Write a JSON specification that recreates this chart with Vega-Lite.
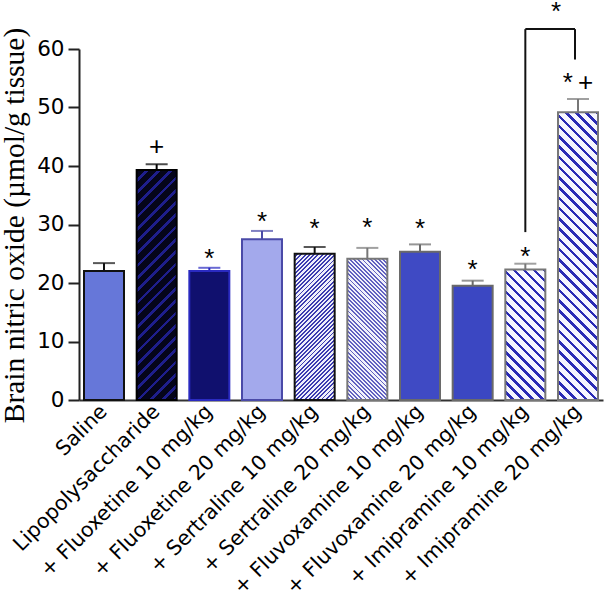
{
  "$schema": "https://vega.github.io/schema/vega-lite/v6.json",
  "width": 524,
  "height": 351,
  "autosize": {"type": "none"},
  "padding": {"left": 79, "top": 49, "right": 3, "bottom": 205},
  "background": "white",
  "config": {"view": {"stroke": null}},
  "datasets": {
    "bars": [
      {"group": "Saline", "mean": 22.05, "upper": 23.4, "sig": "", "sig_y": 0},
      {"group": "Lipopolysaccharide", "mean": 39.3, "upper": 40.3, "sig": "+", "sig_y": 41.8},
      {"group": "+ Fluoxetine 10 mg/kg", "mean": 22.05, "upper": 22.6, "sig": "*", "sig_y": 22.65},
      {"group": "+ Fluoxetine 20 mg/kg", "mean": 27.5, "upper": 28.9, "sig": "*", "sig_y": 29.0},
      {"group": "+ Sertraline 10 mg/kg", "mean": 25.0, "upper": 26.15, "sig": "*", "sig_y": 27.8},
      {"group": "+ Sertraline 20 mg/kg", "mean": 24.15, "upper": 26.0, "sig": "*", "sig_y": 28.1},
      {"group": "+ Fluvoxamine 10 mg/kg", "mean": 25.35, "upper": 26.6, "sig": "*", "sig_y": 27.8},
      {"group": "+ Fluvoxamine 20 mg/kg", "mean": 19.55, "upper": 20.4, "sig": "*", "sig_y": 20.9},
      {"group": "+ Imipramine 10 mg/kg", "mean": 22.3, "upper": 23.3, "sig": "*", "sig_y": 23.1},
      {"group": "+ Imipramine 20 mg/kg", "mean": 49.2, "upper": 51.45, "sig": "*\u2009+", "sig_y": 52.8}
    ],
    "bracket": [
      {"from": "+ Imipramine 10 mg/kg", "to": "+ Imipramine 20 mg/kg", "top": 63.4, "from_low": 28.7, "to_low": 58.2, "label": "*", "label_y": 64.9}
    ]
  },
  "encoding": {
    "x": {
      "field": "group",
      "type": "nominal",
      "scale": {
        "domain": ["Saline", "Lipopolysaccharide", "+ Fluoxetine 10 mg/kg", "+ Fluoxetine 20 mg/kg", "+ Sertraline 10 mg/kg", "+ Sertraline 20 mg/kg", "+ Fluvoxamine 10 mg/kg", "+ Fluvoxamine 20 mg/kg", "+ Imipramine 10 mg/kg", "+ Imipramine 20 mg/kg"],
        "paddingInner": 0.2405,
        "paddingOuter": 0.0949
      },
      "axis": {
        "title": null,
        "ticks": false,
        "tickSize": 0,
        "domainColor": "#333333",
        "domainWidth": 2,
        "labelAngle": -45,
        "labelAlign": "right",
        "labelBaseline": "middle",
        "labelFont": "DejaVu Sans",
        "labelFontSize": 20.5,
        "labelColor": "#000000",
        "labelPadding": 8,
        "labelLimit": 400
      }
    }
  },
  "layer": [
    {
      "data": {"name": "bars"},
      "mark": {"type": "bar", "strokeWidth": 2},
      "encoding": {
        "y": {
          "field": "mean",
          "type": "quantitative",
          "scale": {"domain": [0, 60], "nice": false, "zero": true},
          "axis": {
            "title": "Brain nitric oxide (\u00b5mol/g tissue)",
            "titleFont": "Liberation Serif",
            "titleFontSize": 29.5,
            "titleFontWeight": "normal",
            "titleColor": "#000000",
            "titleAngle": 270,
            "titleAlign": "center",
            "titleBaseline": "alphabetic",
            "titleX": -56,
            "titleY": 176,
            "values": [0, 10, 20, 30, 40, 50, 60],
            "grid": false,
            "domainColor": "#222222",
            "domainWidth": 2,
            "tickColor": "#222222",
            "tickWidth": 2,
            "tickSize": 11,
            "labelFont": "DejaVu Sans",
            "labelFontSize": 21.5,
            "labelColor": "#000000",
            "labelPadding": 4
          }
        },
        "fill": {
          "field": "group",
          "type": "nominal",
          "legend": null,
          "scale": {
            "domain": ["Saline", "Lipopolysaccharide", "+ Fluoxetine 10 mg/kg", "+ Fluoxetine 20 mg/kg", "+ Sertraline 10 mg/kg", "+ Sertraline 20 mg/kg", "+ Fluvoxamine 10 mg/kg", "+ Fluvoxamine 20 mg/kg", "+ Imipramine 10 mg/kg", "+ Imipramine 20 mg/kg"],
            "range": ["#6677d9", "#0b0b33", "#10106e", "#a3a9ec", "#8c92dc", "#a7abe3", "#3f4ac4", "#3b47c2", "#c2c5ef", "#c2c5ef"]
          },
          "condition": [
            {
              "test": "datum.group === 'Lipopolysaccharide'",
              "value": {
                "gradient": "linear", "x1": 0, "y1": 0, "x2": 0.1982, "y2": 1.1394,
                "stops": [
                  {"offset": 0, "color": "#05051a"}, {"offset": 0.0318, "color": "#05051a"}, {"offset": 0.0318, "color": "#1e1e8c"}, {"offset": 0.0455, "color": "#1e1e8c"},
                  {"offset": 0.0455, "color": "#05051a"}, {"offset": 0.0773, "color": "#05051a"}, {"offset": 0.0773, "color": "#1e1e8c"}, {"offset": 0.0909, "color": "#1e1e8c"},
                  {"offset": 0.0909, "color": "#05051a"}, {"offset": 0.1227, "color": "#05051a"}, {"offset": 0.1227, "color": "#1e1e8c"}, {"offset": 0.1364, "color": "#1e1e8c"},
                  {"offset": 0.1364, "color": "#05051a"}, {"offset": 0.1682, "color": "#05051a"}, {"offset": 0.1682, "color": "#1e1e8c"}, {"offset": 0.1818, "color": "#1e1e8c"},
                  {"offset": 0.1818, "color": "#05051a"}, {"offset": 0.2136, "color": "#05051a"}, {"offset": 0.2136, "color": "#1e1e8c"}, {"offset": 0.2273, "color": "#1e1e8c"},
                  {"offset": 0.2273, "color": "#05051a"}, {"offset": 0.2591, "color": "#05051a"}, {"offset": 0.2591, "color": "#1e1e8c"}, {"offset": 0.2727, "color": "#1e1e8c"},
                  {"offset": 0.2727, "color": "#05051a"}, {"offset": 0.3045, "color": "#05051a"}, {"offset": 0.3045, "color": "#1e1e8c"}, {"offset": 0.3182, "color": "#1e1e8c"},
                  {"offset": 0.3182, "color": "#05051a"}, {"offset": 0.35, "color": "#05051a"}, {"offset": 0.35, "color": "#1e1e8c"}, {"offset": 0.3636, "color": "#1e1e8c"},
                  {"offset": 0.3636, "color": "#05051a"}, {"offset": 0.3955, "color": "#05051a"}, {"offset": 0.3955, "color": "#1e1e8c"}, {"offset": 0.4091, "color": "#1e1e8c"},
                  {"offset": 0.4091, "color": "#05051a"}, {"offset": 0.4409, "color": "#05051a"}, {"offset": 0.4409, "color": "#1e1e8c"}, {"offset": 0.4545, "color": "#1e1e8c"},
                  {"offset": 0.4545, "color": "#05051a"}, {"offset": 0.4864, "color": "#05051a"}, {"offset": 0.4864, "color": "#1e1e8c"}, {"offset": 0.5, "color": "#1e1e8c"},
                  {"offset": 0.5, "color": "#05051a"}, {"offset": 0.5318, "color": "#05051a"}, {"offset": 0.5318, "color": "#1e1e8c"}, {"offset": 0.5455, "color": "#1e1e8c"},
                  {"offset": 0.5455, "color": "#05051a"}, {"offset": 0.5773, "color": "#05051a"}, {"offset": 0.5773, "color": "#1e1e8c"}, {"offset": 0.5909, "color": "#1e1e8c"},
                  {"offset": 0.5909, "color": "#05051a"}, {"offset": 0.6227, "color": "#05051a"}, {"offset": 0.6227, "color": "#1e1e8c"}, {"offset": 0.6364, "color": "#1e1e8c"},
                  {"offset": 0.6364, "color": "#05051a"}, {"offset": 0.6682, "color": "#05051a"}, {"offset": 0.6682, "color": "#1e1e8c"}, {"offset": 0.6818, "color": "#1e1e8c"},
                  {"offset": 0.6818, "color": "#05051a"}, {"offset": 0.7136, "color": "#05051a"}, {"offset": 0.7136, "color": "#1e1e8c"}, {"offset": 0.7273, "color": "#1e1e8c"},
                  {"offset": 0.7273, "color": "#05051a"}, {"offset": 0.7591, "color": "#05051a"}, {"offset": 0.7591, "color": "#1e1e8c"}, {"offset": 0.7727, "color": "#1e1e8c"},
                  {"offset": 0.7727, "color": "#05051a"}, {"offset": 0.8045, "color": "#05051a"}, {"offset": 0.8045, "color": "#1e1e8c"}, {"offset": 0.8182, "color": "#1e1e8c"},
                  {"offset": 0.8182, "color": "#05051a"}, {"offset": 0.85, "color": "#05051a"}, {"offset": 0.85, "color": "#1e1e8c"}, {"offset": 0.8636, "color": "#1e1e8c"},
                  {"offset": 0.8636, "color": "#05051a"}, {"offset": 0.8955, "color": "#05051a"}, {"offset": 0.8955, "color": "#1e1e8c"}, {"offset": 0.9091, "color": "#1e1e8c"},
                  {"offset": 0.9091, "color": "#05051a"}, {"offset": 0.9409, "color": "#05051a"}, {"offset": 0.9409, "color": "#1e1e8c"}, {"offset": 0.9545, "color": "#1e1e8c"},
                  {"offset": 0.9545, "color": "#05051a"}, {"offset": 0.9864, "color": "#05051a"}, {"offset": 0.9864, "color": "#1e1e8c"}, {"offset": 1, "color": "#1e1e8c"}
                ]
              }
            },
            {
              "test": "datum.group === '+ Sertraline 10 mg/kg'",
              "value": {
                "gradient": "linear", "x1": 0, "y1": 0, "x2": 0.324, "y2": 1.1847,
                "stops": [
                  {"offset": 0, "color": "#eeeefa"}, {"offset": 0.0125, "color": "#eeeefa"}, {"offset": 0.0125, "color": "#3c3cb0"}, {"offset": 0.0227, "color": "#3c3cb0"},
                  {"offset": 0.0227, "color": "#eeeefa"}, {"offset": 0.0352, "color": "#eeeefa"}, {"offset": 0.0352, "color": "#3c3cb0"}, {"offset": 0.0455, "color": "#3c3cb0"},
                  {"offset": 0.0455, "color": "#eeeefa"}, {"offset": 0.058, "color": "#eeeefa"}, {"offset": 0.058, "color": "#3c3cb0"}, {"offset": 0.0682, "color": "#3c3cb0"},
                  {"offset": 0.0682, "color": "#eeeefa"}, {"offset": 0.0807, "color": "#eeeefa"}, {"offset": 0.0807, "color": "#3c3cb0"}, {"offset": 0.0909, "color": "#3c3cb0"},
                  {"offset": 0.0909, "color": "#eeeefa"}, {"offset": 0.1034, "color": "#eeeefa"}, {"offset": 0.1034, "color": "#3c3cb0"}, {"offset": 0.1136, "color": "#3c3cb0"},
                  {"offset": 0.1136, "color": "#eeeefa"}, {"offset": 0.1261, "color": "#eeeefa"}, {"offset": 0.1261, "color": "#3c3cb0"}, {"offset": 0.1364, "color": "#3c3cb0"},
                  {"offset": 0.1364, "color": "#eeeefa"}, {"offset": 0.1489, "color": "#eeeefa"}, {"offset": 0.1489, "color": "#3c3cb0"}, {"offset": 0.1591, "color": "#3c3cb0"},
                  {"offset": 0.1591, "color": "#eeeefa"}, {"offset": 0.1716, "color": "#eeeefa"}, {"offset": 0.1716, "color": "#3c3cb0"}, {"offset": 0.1818, "color": "#3c3cb0"},
                  {"offset": 0.1818, "color": "#eeeefa"}, {"offset": 0.1943, "color": "#eeeefa"}, {"offset": 0.1943, "color": "#3c3cb0"}, {"offset": 0.2045, "color": "#3c3cb0"},
                  {"offset": 0.2045, "color": "#eeeefa"}, {"offset": 0.217, "color": "#eeeefa"}, {"offset": 0.217, "color": "#3c3cb0"}, {"offset": 0.2273, "color": "#3c3cb0"},
                  {"offset": 0.2273, "color": "#eeeefa"}, {"offset": 0.2398, "color": "#eeeefa"}, {"offset": 0.2398, "color": "#3c3cb0"}, {"offset": 0.25, "color": "#3c3cb0"},
                  {"offset": 0.25, "color": "#eeeefa"}, {"offset": 0.2625, "color": "#eeeefa"}, {"offset": 0.2625, "color": "#3c3cb0"}, {"offset": 0.2727, "color": "#3c3cb0"},
                  {"offset": 0.2727, "color": "#eeeefa"}, {"offset": 0.2852, "color": "#eeeefa"}, {"offset": 0.2852, "color": "#3c3cb0"}, {"offset": 0.2955, "color": "#3c3cb0"},
                  {"offset": 0.2955, "color": "#eeeefa"}, {"offset": 0.308, "color": "#eeeefa"}, {"offset": 0.308, "color": "#3c3cb0"}, {"offset": 0.3182, "color": "#3c3cb0"},
                  {"offset": 0.3182, "color": "#eeeefa"}, {"offset": 0.3307, "color": "#eeeefa"}, {"offset": 0.3307, "color": "#3c3cb0"}, {"offset": 0.3409, "color": "#3c3cb0"},
                  {"offset": 0.3409, "color": "#eeeefa"}, {"offset": 0.3534, "color": "#eeeefa"}, {"offset": 0.3534, "color": "#3c3cb0"}, {"offset": 0.3636, "color": "#3c3cb0"},
                  {"offset": 0.3636, "color": "#eeeefa"}, {"offset": 0.3761, "color": "#eeeefa"}, {"offset": 0.3761, "color": "#3c3cb0"}, {"offset": 0.3864, "color": "#3c3cb0"},
                  {"offset": 0.3864, "color": "#eeeefa"}, {"offset": 0.3989, "color": "#eeeefa"}, {"offset": 0.3989, "color": "#3c3cb0"}, {"offset": 0.4091, "color": "#3c3cb0"},
                  {"offset": 0.4091, "color": "#eeeefa"}, {"offset": 0.4216, "color": "#eeeefa"}, {"offset": 0.4216, "color": "#3c3cb0"}, {"offset": 0.4318, "color": "#3c3cb0"},
                  {"offset": 0.4318, "color": "#eeeefa"}, {"offset": 0.4443, "color": "#eeeefa"}, {"offset": 0.4443, "color": "#3c3cb0"}, {"offset": 0.4545, "color": "#3c3cb0"},
                  {"offset": 0.4545, "color": "#eeeefa"}, {"offset": 0.467, "color": "#eeeefa"}, {"offset": 0.467, "color": "#3c3cb0"}, {"offset": 0.4773, "color": "#3c3cb0"},
                  {"offset": 0.4773, "color": "#eeeefa"}, {"offset": 0.4898, "color": "#eeeefa"}, {"offset": 0.4898, "color": "#3c3cb0"}, {"offset": 0.5, "color": "#3c3cb0"},
                  {"offset": 0.5, "color": "#eeeefa"}, {"offset": 0.5125, "color": "#eeeefa"}, {"offset": 0.5125, "color": "#3c3cb0"}, {"offset": 0.5227, "color": "#3c3cb0"},
                  {"offset": 0.5227, "color": "#eeeefa"}, {"offset": 0.5352, "color": "#eeeefa"}, {"offset": 0.5352, "color": "#3c3cb0"}, {"offset": 0.5455, "color": "#3c3cb0"},
                  {"offset": 0.5455, "color": "#eeeefa"}, {"offset": 0.558, "color": "#eeeefa"}, {"offset": 0.558, "color": "#3c3cb0"}, {"offset": 0.5682, "color": "#3c3cb0"},
                  {"offset": 0.5682, "color": "#eeeefa"}, {"offset": 0.5807, "color": "#eeeefa"}, {"offset": 0.5807, "color": "#3c3cb0"}, {"offset": 0.5909, "color": "#3c3cb0"},
                  {"offset": 0.5909, "color": "#eeeefa"}, {"offset": 0.6034, "color": "#eeeefa"}, {"offset": 0.6034, "color": "#3c3cb0"}, {"offset": 0.6136, "color": "#3c3cb0"},
                  {"offset": 0.6136, "color": "#eeeefa"}, {"offset": 0.6261, "color": "#eeeefa"}, {"offset": 0.6261, "color": "#3c3cb0"}, {"offset": 0.6364, "color": "#3c3cb0"},
                  {"offset": 0.6364, "color": "#eeeefa"}, {"offset": 0.6489, "color": "#eeeefa"}, {"offset": 0.6489, "color": "#3c3cb0"}, {"offset": 0.6591, "color": "#3c3cb0"},
                  {"offset": 0.6591, "color": "#eeeefa"}, {"offset": 0.6716, "color": "#eeeefa"}, {"offset": 0.6716, "color": "#3c3cb0"}, {"offset": 0.6818, "color": "#3c3cb0"},
                  {"offset": 0.6818, "color": "#eeeefa"}, {"offset": 0.6943, "color": "#eeeefa"}, {"offset": 0.6943, "color": "#3c3cb0"}, {"offset": 0.7045, "color": "#3c3cb0"},
                  {"offset": 0.7045, "color": "#eeeefa"}, {"offset": 0.717, "color": "#eeeefa"}, {"offset": 0.717, "color": "#3c3cb0"}, {"offset": 0.7273, "color": "#3c3cb0"},
                  {"offset": 0.7273, "color": "#eeeefa"}, {"offset": 0.7398, "color": "#eeeefa"}, {"offset": 0.7398, "color": "#3c3cb0"}, {"offset": 0.75, "color": "#3c3cb0"},
                  {"offset": 0.75, "color": "#eeeefa"}, {"offset": 0.7625, "color": "#eeeefa"}, {"offset": 0.7625, "color": "#3c3cb0"}, {"offset": 0.7727, "color": "#3c3cb0"},
                  {"offset": 0.7727, "color": "#eeeefa"}, {"offset": 0.7852, "color": "#eeeefa"}, {"offset": 0.7852, "color": "#3c3cb0"}, {"offset": 0.7955, "color": "#3c3cb0"},
                  {"offset": 0.7955, "color": "#eeeefa"}, {"offset": 0.808, "color": "#eeeefa"}, {"offset": 0.808, "color": "#3c3cb0"}, {"offset": 0.8182, "color": "#3c3cb0"},
                  {"offset": 0.8182, "color": "#eeeefa"}, {"offset": 0.8307, "color": "#eeeefa"}, {"offset": 0.8307, "color": "#3c3cb0"}, {"offset": 0.8409, "color": "#3c3cb0"},
                  {"offset": 0.8409, "color": "#eeeefa"}, {"offset": 0.8534, "color": "#eeeefa"}, {"offset": 0.8534, "color": "#3c3cb0"}, {"offset": 0.8636, "color": "#3c3cb0"},
                  {"offset": 0.8636, "color": "#eeeefa"}, {"offset": 0.8761, "color": "#eeeefa"}, {"offset": 0.8761, "color": "#3c3cb0"}, {"offset": 0.8864, "color": "#3c3cb0"},
                  {"offset": 0.8864, "color": "#eeeefa"}, {"offset": 0.8989, "color": "#eeeefa"}, {"offset": 0.8989, "color": "#3c3cb0"}, {"offset": 0.9091, "color": "#3c3cb0"},
                  {"offset": 0.9091, "color": "#eeeefa"}, {"offset": 0.9216, "color": "#eeeefa"}, {"offset": 0.9216, "color": "#3c3cb0"}, {"offset": 0.9318, "color": "#3c3cb0"},
                  {"offset": 0.9318, "color": "#eeeefa"}, {"offset": 0.9443, "color": "#eeeefa"}, {"offset": 0.9443, "color": "#3c3cb0"}, {"offset": 0.9545, "color": "#3c3cb0"},
                  {"offset": 0.9545, "color": "#eeeefa"}, {"offset": 0.967, "color": "#eeeefa"}, {"offset": 0.967, "color": "#3c3cb0"}, {"offset": 0.9773, "color": "#3c3cb0"},
                  {"offset": 0.9773, "color": "#eeeefa"}, {"offset": 0.9898, "color": "#eeeefa"}, {"offset": 0.9898, "color": "#3c3cb0"}, {"offset": 1, "color": "#3c3cb0"}
                ]
              }
            },
            {
              "test": "datum.group === '+ Sertraline 20 mg/kg'",
              "value": {
                "gradient": "linear", "x1": 0, "y1": 1, "x2": 0.3363, "y2": -0.1879,
                "stops": [
                  {"offset": 0, "color": "#f2f2fb"}, {"offset": 0.0125, "color": "#f2f2fb"}, {"offset": 0.0125, "color": "#6262c0"}, {"offset": 0.0227, "color": "#6262c0"},
                  {"offset": 0.0227, "color": "#f2f2fb"}, {"offset": 0.0352, "color": "#f2f2fb"}, {"offset": 0.0352, "color": "#6262c0"}, {"offset": 0.0455, "color": "#6262c0"},
                  {"offset": 0.0455, "color": "#f2f2fb"}, {"offset": 0.058, "color": "#f2f2fb"}, {"offset": 0.058, "color": "#6262c0"}, {"offset": 0.0682, "color": "#6262c0"},
                  {"offset": 0.0682, "color": "#f2f2fb"}, {"offset": 0.0807, "color": "#f2f2fb"}, {"offset": 0.0807, "color": "#6262c0"}, {"offset": 0.0909, "color": "#6262c0"},
                  {"offset": 0.0909, "color": "#f2f2fb"}, {"offset": 0.1034, "color": "#f2f2fb"}, {"offset": 0.1034, "color": "#6262c0"}, {"offset": 0.1136, "color": "#6262c0"},
                  {"offset": 0.1136, "color": "#f2f2fb"}, {"offset": 0.1261, "color": "#f2f2fb"}, {"offset": 0.1261, "color": "#6262c0"}, {"offset": 0.1364, "color": "#6262c0"},
                  {"offset": 0.1364, "color": "#f2f2fb"}, {"offset": 0.1489, "color": "#f2f2fb"}, {"offset": 0.1489, "color": "#6262c0"}, {"offset": 0.1591, "color": "#6262c0"},
                  {"offset": 0.1591, "color": "#f2f2fb"}, {"offset": 0.1716, "color": "#f2f2fb"}, {"offset": 0.1716, "color": "#6262c0"}, {"offset": 0.1818, "color": "#6262c0"},
                  {"offset": 0.1818, "color": "#f2f2fb"}, {"offset": 0.1943, "color": "#f2f2fb"}, {"offset": 0.1943, "color": "#6262c0"}, {"offset": 0.2045, "color": "#6262c0"},
                  {"offset": 0.2045, "color": "#f2f2fb"}, {"offset": 0.217, "color": "#f2f2fb"}, {"offset": 0.217, "color": "#6262c0"}, {"offset": 0.2273, "color": "#6262c0"},
                  {"offset": 0.2273, "color": "#f2f2fb"}, {"offset": 0.2398, "color": "#f2f2fb"}, {"offset": 0.2398, "color": "#6262c0"}, {"offset": 0.25, "color": "#6262c0"},
                  {"offset": 0.25, "color": "#f2f2fb"}, {"offset": 0.2625, "color": "#f2f2fb"}, {"offset": 0.2625, "color": "#6262c0"}, {"offset": 0.2727, "color": "#6262c0"},
                  {"offset": 0.2727, "color": "#f2f2fb"}, {"offset": 0.2852, "color": "#f2f2fb"}, {"offset": 0.2852, "color": "#6262c0"}, {"offset": 0.2955, "color": "#6262c0"},
                  {"offset": 0.2955, "color": "#f2f2fb"}, {"offset": 0.308, "color": "#f2f2fb"}, {"offset": 0.308, "color": "#6262c0"}, {"offset": 0.3182, "color": "#6262c0"},
                  {"offset": 0.3182, "color": "#f2f2fb"}, {"offset": 0.3307, "color": "#f2f2fb"}, {"offset": 0.3307, "color": "#6262c0"}, {"offset": 0.3409, "color": "#6262c0"},
                  {"offset": 0.3409, "color": "#f2f2fb"}, {"offset": 0.3534, "color": "#f2f2fb"}, {"offset": 0.3534, "color": "#6262c0"}, {"offset": 0.3636, "color": "#6262c0"},
                  {"offset": 0.3636, "color": "#f2f2fb"}, {"offset": 0.3761, "color": "#f2f2fb"}, {"offset": 0.3761, "color": "#6262c0"}, {"offset": 0.3864, "color": "#6262c0"},
                  {"offset": 0.3864, "color": "#f2f2fb"}, {"offset": 0.3989, "color": "#f2f2fb"}, {"offset": 0.3989, "color": "#6262c0"}, {"offset": 0.4091, "color": "#6262c0"},
                  {"offset": 0.4091, "color": "#f2f2fb"}, {"offset": 0.4216, "color": "#f2f2fb"}, {"offset": 0.4216, "color": "#6262c0"}, {"offset": 0.4318, "color": "#6262c0"},
                  {"offset": 0.4318, "color": "#f2f2fb"}, {"offset": 0.4443, "color": "#f2f2fb"}, {"offset": 0.4443, "color": "#6262c0"}, {"offset": 0.4545, "color": "#6262c0"},
                  {"offset": 0.4545, "color": "#f2f2fb"}, {"offset": 0.467, "color": "#f2f2fb"}, {"offset": 0.467, "color": "#6262c0"}, {"offset": 0.4773, "color": "#6262c0"},
                  {"offset": 0.4773, "color": "#f2f2fb"}, {"offset": 0.4898, "color": "#f2f2fb"}, {"offset": 0.4898, "color": "#6262c0"}, {"offset": 0.5, "color": "#6262c0"},
                  {"offset": 0.5, "color": "#f2f2fb"}, {"offset": 0.5125, "color": "#f2f2fb"}, {"offset": 0.5125, "color": "#6262c0"}, {"offset": 0.5227, "color": "#6262c0"},
                  {"offset": 0.5227, "color": "#f2f2fb"}, {"offset": 0.5352, "color": "#f2f2fb"}, {"offset": 0.5352, "color": "#6262c0"}, {"offset": 0.5455, "color": "#6262c0"},
                  {"offset": 0.5455, "color": "#f2f2fb"}, {"offset": 0.558, "color": "#f2f2fb"}, {"offset": 0.558, "color": "#6262c0"}, {"offset": 0.5682, "color": "#6262c0"},
                  {"offset": 0.5682, "color": "#f2f2fb"}, {"offset": 0.5807, "color": "#f2f2fb"}, {"offset": 0.5807, "color": "#6262c0"}, {"offset": 0.5909, "color": "#6262c0"},
                  {"offset": 0.5909, "color": "#f2f2fb"}, {"offset": 0.6034, "color": "#f2f2fb"}, {"offset": 0.6034, "color": "#6262c0"}, {"offset": 0.6136, "color": "#6262c0"},
                  {"offset": 0.6136, "color": "#f2f2fb"}, {"offset": 0.6261, "color": "#f2f2fb"}, {"offset": 0.6261, "color": "#6262c0"}, {"offset": 0.6364, "color": "#6262c0"},
                  {"offset": 0.6364, "color": "#f2f2fb"}, {"offset": 0.6489, "color": "#f2f2fb"}, {"offset": 0.6489, "color": "#6262c0"}, {"offset": 0.6591, "color": "#6262c0"},
                  {"offset": 0.6591, "color": "#f2f2fb"}, {"offset": 0.6716, "color": "#f2f2fb"}, {"offset": 0.6716, "color": "#6262c0"}, {"offset": 0.6818, "color": "#6262c0"},
                  {"offset": 0.6818, "color": "#f2f2fb"}, {"offset": 0.6943, "color": "#f2f2fb"}, {"offset": 0.6943, "color": "#6262c0"}, {"offset": 0.7045, "color": "#6262c0"},
                  {"offset": 0.7045, "color": "#f2f2fb"}, {"offset": 0.717, "color": "#f2f2fb"}, {"offset": 0.717, "color": "#6262c0"}, {"offset": 0.7273, "color": "#6262c0"},
                  {"offset": 0.7273, "color": "#f2f2fb"}, {"offset": 0.7398, "color": "#f2f2fb"}, {"offset": 0.7398, "color": "#6262c0"}, {"offset": 0.75, "color": "#6262c0"},
                  {"offset": 0.75, "color": "#f2f2fb"}, {"offset": 0.7625, "color": "#f2f2fb"}, {"offset": 0.7625, "color": "#6262c0"}, {"offset": 0.7727, "color": "#6262c0"},
                  {"offset": 0.7727, "color": "#f2f2fb"}, {"offset": 0.7852, "color": "#f2f2fb"}, {"offset": 0.7852, "color": "#6262c0"}, {"offset": 0.7955, "color": "#6262c0"},
                  {"offset": 0.7955, "color": "#f2f2fb"}, {"offset": 0.808, "color": "#f2f2fb"}, {"offset": 0.808, "color": "#6262c0"}, {"offset": 0.8182, "color": "#6262c0"},
                  {"offset": 0.8182, "color": "#f2f2fb"}, {"offset": 0.8307, "color": "#f2f2fb"}, {"offset": 0.8307, "color": "#6262c0"}, {"offset": 0.8409, "color": "#6262c0"},
                  {"offset": 0.8409, "color": "#f2f2fb"}, {"offset": 0.8534, "color": "#f2f2fb"}, {"offset": 0.8534, "color": "#6262c0"}, {"offset": 0.8636, "color": "#6262c0"},
                  {"offset": 0.8636, "color": "#f2f2fb"}, {"offset": 0.8761, "color": "#f2f2fb"}, {"offset": 0.8761, "color": "#6262c0"}, {"offset": 0.8864, "color": "#6262c0"},
                  {"offset": 0.8864, "color": "#f2f2fb"}, {"offset": 0.8989, "color": "#f2f2fb"}, {"offset": 0.8989, "color": "#6262c0"}, {"offset": 0.9091, "color": "#6262c0"},
                  {"offset": 0.9091, "color": "#f2f2fb"}, {"offset": 0.9216, "color": "#f2f2fb"}, {"offset": 0.9216, "color": "#6262c0"}, {"offset": 0.9318, "color": "#6262c0"},
                  {"offset": 0.9318, "color": "#f2f2fb"}, {"offset": 0.9443, "color": "#f2f2fb"}, {"offset": 0.9443, "color": "#6262c0"}, {"offset": 0.9545, "color": "#6262c0"},
                  {"offset": 0.9545, "color": "#f2f2fb"}, {"offset": 0.967, "color": "#f2f2fb"}, {"offset": 0.967, "color": "#6262c0"}, {"offset": 0.9773, "color": "#6262c0"},
                  {"offset": 0.9773, "color": "#f2f2fb"}, {"offset": 0.9898, "color": "#f2f2fb"}, {"offset": 0.9898, "color": "#6262c0"}, {"offset": 1, "color": "#6262c0"}
                ]
              }
            },
            {
              "test": "datum.group === '+ Imipramine 10 mg/kg'",
              "value": {
                "gradient": "linear", "x1": 0, "y1": 1, "x2": 0.3661, "y2": -0.1943,
                "stops": [
                  {"offset": 0, "color": "#f6f6ff"}, {"offset": 0.0382, "color": "#f6f6ff"}, {"offset": 0.0382, "color": "#2b2bb5"}, {"offset": 0.0588, "color": "#2b2bb5"},
                  {"offset": 0.0588, "color": "#f6f6ff"}, {"offset": 0.0971, "color": "#f6f6ff"}, {"offset": 0.0971, "color": "#2b2bb5"}, {"offset": 0.1176, "color": "#2b2bb5"},
                  {"offset": 0.1176, "color": "#f6f6ff"}, {"offset": 0.1559, "color": "#f6f6ff"}, {"offset": 0.1559, "color": "#2b2bb5"}, {"offset": 0.1765, "color": "#2b2bb5"},
                  {"offset": 0.1765, "color": "#f6f6ff"}, {"offset": 0.2147, "color": "#f6f6ff"}, {"offset": 0.2147, "color": "#2b2bb5"}, {"offset": 0.2353, "color": "#2b2bb5"},
                  {"offset": 0.2353, "color": "#f6f6ff"}, {"offset": 0.2735, "color": "#f6f6ff"}, {"offset": 0.2735, "color": "#2b2bb5"}, {"offset": 0.2941, "color": "#2b2bb5"},
                  {"offset": 0.2941, "color": "#f6f6ff"}, {"offset": 0.3324, "color": "#f6f6ff"}, {"offset": 0.3324, "color": "#2b2bb5"}, {"offset": 0.3529, "color": "#2b2bb5"},
                  {"offset": 0.3529, "color": "#f6f6ff"}, {"offset": 0.3912, "color": "#f6f6ff"}, {"offset": 0.3912, "color": "#2b2bb5"}, {"offset": 0.4118, "color": "#2b2bb5"},
                  {"offset": 0.4118, "color": "#f6f6ff"}, {"offset": 0.45, "color": "#f6f6ff"}, {"offset": 0.45, "color": "#2b2bb5"}, {"offset": 0.4706, "color": "#2b2bb5"},
                  {"offset": 0.4706, "color": "#f6f6ff"}, {"offset": 0.5088, "color": "#f6f6ff"}, {"offset": 0.5088, "color": "#2b2bb5"}, {"offset": 0.5294, "color": "#2b2bb5"},
                  {"offset": 0.5294, "color": "#f6f6ff"}, {"offset": 0.5676, "color": "#f6f6ff"}, {"offset": 0.5676, "color": "#2b2bb5"}, {"offset": 0.5882, "color": "#2b2bb5"},
                  {"offset": 0.5882, "color": "#f6f6ff"}, {"offset": 0.6265, "color": "#f6f6ff"}, {"offset": 0.6265, "color": "#2b2bb5"}, {"offset": 0.6471, "color": "#2b2bb5"},
                  {"offset": 0.6471, "color": "#f6f6ff"}, {"offset": 0.6853, "color": "#f6f6ff"}, {"offset": 0.6853, "color": "#2b2bb5"}, {"offset": 0.7059, "color": "#2b2bb5"},
                  {"offset": 0.7059, "color": "#f6f6ff"}, {"offset": 0.7441, "color": "#f6f6ff"}, {"offset": 0.7441, "color": "#2b2bb5"}, {"offset": 0.7647, "color": "#2b2bb5"},
                  {"offset": 0.7647, "color": "#f6f6ff"}, {"offset": 0.8029, "color": "#f6f6ff"}, {"offset": 0.8029, "color": "#2b2bb5"}, {"offset": 0.8235, "color": "#2b2bb5"},
                  {"offset": 0.8235, "color": "#f6f6ff"}, {"offset": 0.8618, "color": "#f6f6ff"}, {"offset": 0.8618, "color": "#2b2bb5"}, {"offset": 0.8824, "color": "#2b2bb5"},
                  {"offset": 0.8824, "color": "#f6f6ff"}, {"offset": 0.9206, "color": "#f6f6ff"}, {"offset": 0.9206, "color": "#2b2bb5"}, {"offset": 0.9412, "color": "#2b2bb5"},
                  {"offset": 0.9412, "color": "#f6f6ff"}, {"offset": 0.9794, "color": "#f6f6ff"}, {"offset": 0.9794, "color": "#2b2bb5"}, {"offset": 1, "color": "#2b2bb5"}
                ]
              }
            },
            {
              "test": "datum.group === '+ Imipramine 20 mg/kg'",
              "value": {
                "gradient": "linear", "x1": 0, "y1": 1, "x2": 0.1553, "y2": -0.1174,
                "stops": [
                  {"offset": 0, "color": "#f6f6ff"}, {"offset": 0.0203, "color": "#f6f6ff"}, {"offset": 0.0203, "color": "#2b2bb5"}, {"offset": 0.0313, "color": "#2b2bb5"},
                  {"offset": 0.0313, "color": "#f6f6ff"}, {"offset": 0.0516, "color": "#f6f6ff"}, {"offset": 0.0516, "color": "#2b2bb5"}, {"offset": 0.0625, "color": "#2b2bb5"},
                  {"offset": 0.0625, "color": "#f6f6ff"}, {"offset": 0.0828, "color": "#f6f6ff"}, {"offset": 0.0828, "color": "#2b2bb5"}, {"offset": 0.0938, "color": "#2b2bb5"},
                  {"offset": 0.0938, "color": "#f6f6ff"}, {"offset": 0.1141, "color": "#f6f6ff"}, {"offset": 0.1141, "color": "#2b2bb5"}, {"offset": 0.125, "color": "#2b2bb5"},
                  {"offset": 0.125, "color": "#f6f6ff"}, {"offset": 0.1453, "color": "#f6f6ff"}, {"offset": 0.1453, "color": "#2b2bb5"}, {"offset": 0.1563, "color": "#2b2bb5"},
                  {"offset": 0.1563, "color": "#f6f6ff"}, {"offset": 0.1766, "color": "#f6f6ff"}, {"offset": 0.1766, "color": "#2b2bb5"}, {"offset": 0.1875, "color": "#2b2bb5"},
                  {"offset": 0.1875, "color": "#f6f6ff"}, {"offset": 0.2078, "color": "#f6f6ff"}, {"offset": 0.2078, "color": "#2b2bb5"}, {"offset": 0.2188, "color": "#2b2bb5"},
                  {"offset": 0.2188, "color": "#f6f6ff"}, {"offset": 0.2391, "color": "#f6f6ff"}, {"offset": 0.2391, "color": "#2b2bb5"}, {"offset": 0.25, "color": "#2b2bb5"},
                  {"offset": 0.25, "color": "#f6f6ff"}, {"offset": 0.2703, "color": "#f6f6ff"}, {"offset": 0.2703, "color": "#2b2bb5"}, {"offset": 0.2813, "color": "#2b2bb5"},
                  {"offset": 0.2813, "color": "#f6f6ff"}, {"offset": 0.3016, "color": "#f6f6ff"}, {"offset": 0.3016, "color": "#2b2bb5"}, {"offset": 0.3125, "color": "#2b2bb5"},
                  {"offset": 0.3125, "color": "#f6f6ff"}, {"offset": 0.3328, "color": "#f6f6ff"}, {"offset": 0.3328, "color": "#2b2bb5"}, {"offset": 0.3438, "color": "#2b2bb5"},
                  {"offset": 0.3438, "color": "#f6f6ff"}, {"offset": 0.3641, "color": "#f6f6ff"}, {"offset": 0.3641, "color": "#2b2bb5"}, {"offset": 0.375, "color": "#2b2bb5"},
                  {"offset": 0.375, "color": "#f6f6ff"}, {"offset": 0.3953, "color": "#f6f6ff"}, {"offset": 0.3953, "color": "#2b2bb5"}, {"offset": 0.4063, "color": "#2b2bb5"},
                  {"offset": 0.4063, "color": "#f6f6ff"}, {"offset": 0.4266, "color": "#f6f6ff"}, {"offset": 0.4266, "color": "#2b2bb5"}, {"offset": 0.4375, "color": "#2b2bb5"},
                  {"offset": 0.4375, "color": "#f6f6ff"}, {"offset": 0.4578, "color": "#f6f6ff"}, {"offset": 0.4578, "color": "#2b2bb5"}, {"offset": 0.4688, "color": "#2b2bb5"},
                  {"offset": 0.4688, "color": "#f6f6ff"}, {"offset": 0.4891, "color": "#f6f6ff"}, {"offset": 0.4891, "color": "#2b2bb5"}, {"offset": 0.5, "color": "#2b2bb5"},
                  {"offset": 0.5, "color": "#f6f6ff"}, {"offset": 0.5203, "color": "#f6f6ff"}, {"offset": 0.5203, "color": "#2b2bb5"}, {"offset": 0.5313, "color": "#2b2bb5"},
                  {"offset": 0.5313, "color": "#f6f6ff"}, {"offset": 0.5516, "color": "#f6f6ff"}, {"offset": 0.5516, "color": "#2b2bb5"}, {"offset": 0.5625, "color": "#2b2bb5"},
                  {"offset": 0.5625, "color": "#f6f6ff"}, {"offset": 0.5828, "color": "#f6f6ff"}, {"offset": 0.5828, "color": "#2b2bb5"}, {"offset": 0.5938, "color": "#2b2bb5"},
                  {"offset": 0.5938, "color": "#f6f6ff"}, {"offset": 0.6141, "color": "#f6f6ff"}, {"offset": 0.6141, "color": "#2b2bb5"}, {"offset": 0.625, "color": "#2b2bb5"},
                  {"offset": 0.625, "color": "#f6f6ff"}, {"offset": 0.6453, "color": "#f6f6ff"}, {"offset": 0.6453, "color": "#2b2bb5"}, {"offset": 0.6563, "color": "#2b2bb5"},
                  {"offset": 0.6563, "color": "#f6f6ff"}, {"offset": 0.6766, "color": "#f6f6ff"}, {"offset": 0.6766, "color": "#2b2bb5"}, {"offset": 0.6875, "color": "#2b2bb5"},
                  {"offset": 0.6875, "color": "#f6f6ff"}, {"offset": 0.7078, "color": "#f6f6ff"}, {"offset": 0.7078, "color": "#2b2bb5"}, {"offset": 0.7188, "color": "#2b2bb5"},
                  {"offset": 0.7188, "color": "#f6f6ff"}, {"offset": 0.7391, "color": "#f6f6ff"}, {"offset": 0.7391, "color": "#2b2bb5"}, {"offset": 0.75, "color": "#2b2bb5"},
                  {"offset": 0.75, "color": "#f6f6ff"}, {"offset": 0.7703, "color": "#f6f6ff"}, {"offset": 0.7703, "color": "#2b2bb5"}, {"offset": 0.7813, "color": "#2b2bb5"},
                  {"offset": 0.7813, "color": "#f6f6ff"}, {"offset": 0.8016, "color": "#f6f6ff"}, {"offset": 0.8016, "color": "#2b2bb5"}, {"offset": 0.8125, "color": "#2b2bb5"},
                  {"offset": 0.8125, "color": "#f6f6ff"}, {"offset": 0.8328, "color": "#f6f6ff"}, {"offset": 0.8328, "color": "#2b2bb5"}, {"offset": 0.8438, "color": "#2b2bb5"},
                  {"offset": 0.8438, "color": "#f6f6ff"}, {"offset": 0.8641, "color": "#f6f6ff"}, {"offset": 0.8641, "color": "#2b2bb5"}, {"offset": 0.875, "color": "#2b2bb5"},
                  {"offset": 0.875, "color": "#f6f6ff"}, {"offset": 0.8953, "color": "#f6f6ff"}, {"offset": 0.8953, "color": "#2b2bb5"}, {"offset": 0.9063, "color": "#2b2bb5"},
                  {"offset": 0.9063, "color": "#f6f6ff"}, {"offset": 0.9266, "color": "#f6f6ff"}, {"offset": 0.9266, "color": "#2b2bb5"}, {"offset": 0.9375, "color": "#2b2bb5"},
                  {"offset": 0.9375, "color": "#f6f6ff"}, {"offset": 0.9578, "color": "#f6f6ff"}, {"offset": 0.9578, "color": "#2b2bb5"}, {"offset": 0.9688, "color": "#2b2bb5"},
                  {"offset": 0.9688, "color": "#f6f6ff"}, {"offset": 0.9891, "color": "#f6f6ff"}, {"offset": 0.9891, "color": "#2b2bb5"}, {"offset": 1, "color": "#2b2bb5"}
                ]
              }
            }
          ]
        },
        "stroke": {
          "field": "group",
          "type": "nominal",
          "legend": null,
          "scale": {
            "domain": ["Saline", "Lipopolysaccharide", "+ Fluoxetine 10 mg/kg", "+ Fluoxetine 20 mg/kg", "+ Sertraline 10 mg/kg", "+ Sertraline 20 mg/kg", "+ Fluvoxamine 10 mg/kg", "+ Fluvoxamine 20 mg/kg", "+ Imipramine 10 mg/kg", "+ Imipramine 20 mg/kg"],
            "range": ["#111111", "#000000", "#2a2ac0", "#4a4aa8", "#111111", "#777777", "#6a6a6a", "#6a6a6a", "#777777", "#777777"]
          }
        }
      }
    },
    {
      "data": {"name": "bars"},
      "mark": {"type": "rule", "strokeWidth": 2},
      "encoding": {
        "y": {"field": "mean", "type": "quantitative"},
        "y2": {"field": "upper"},
        "stroke": {"field": "group", "type": "nominal", "legend": null}
      }
    },
    {
      "data": {"name": "bars"},
      "mark": {"type": "tick", "size": 22, "thickness": 2, "orient": "horizontal"},
      "encoding": {
        "y": {"field": "upper", "type": "quantitative"},
        "color": {
          "field": "group",
          "type": "nominal",
          "legend": null,
          "scale": {
            "domain": ["Saline", "Lipopolysaccharide", "+ Fluoxetine 10 mg/kg", "+ Fluoxetine 20 mg/kg", "+ Sertraline 10 mg/kg", "+ Sertraline 20 mg/kg", "+ Fluvoxamine 10 mg/kg", "+ Fluvoxamine 20 mg/kg", "+ Imipramine 10 mg/kg", "+ Imipramine 20 mg/kg"],
            "range": ["#111111", "#000000", "#2a2ac0", "#4a4aa8", "#111111", "#777777", "#6a6a6a", "#6a6a6a", "#777777", "#777777"]
          }
        }
      }
    },
    {
      "data": {"name": "bars"},
      "transform": [{"filter": "datum.sig != ''"}],
      "mark": {"type": "text", "font": "Liberation Sans", "fontSize": 26, "baseline": "alphabetic", "align": "center", "color": "#000000"},
      "encoding": {
        "y": {"field": "sig_y", "type": "quantitative"},
        "text": {"field": "sig"}
      }
    },
    {
      "data": {"name": "bracket"},
      "mark": {"type": "rule", "strokeWidth": 2, "color": "#111111", "x2Offset": -3},
      "encoding": {
        "x": {"field": "from", "type": "nominal"},
        "x2": {"field": "to"},
        "y": {"field": "top", "type": "quantitative"}
      }
    },
    {
      "data": {"name": "bracket"},
      "mark": {"type": "rule", "strokeWidth": 2, "color": "#111111"},
      "encoding": {
        "x": {"field": "from", "type": "nominal"},
        "y": {"field": "from_low", "type": "quantitative"},
        "y2": {"field": "top"}
      }
    },
    {
      "data": {"name": "bracket"},
      "mark": {"type": "rule", "strokeWidth": 2, "color": "#111111", "xOffset": -3},
      "encoding": {
        "x": {"field": "to", "type": "nominal"},
        "y": {"field": "to_low", "type": "quantitative"},
        "y2": {"field": "top"}
      }
    },
    {
      "data": {"name": "bracket"},
      "mark": {"type": "text", "font": "Liberation Sans", "fontSize": 26, "baseline": "alphabetic", "align": "center", "color": "#000000", "dx": -22},
      "encoding": {
        "x": {"field": "to", "type": "nominal"},
        "y": {"field": "label_y", "type": "quantitative"},
        "text": {"field": "label"}
      }
    }
  ]
}
